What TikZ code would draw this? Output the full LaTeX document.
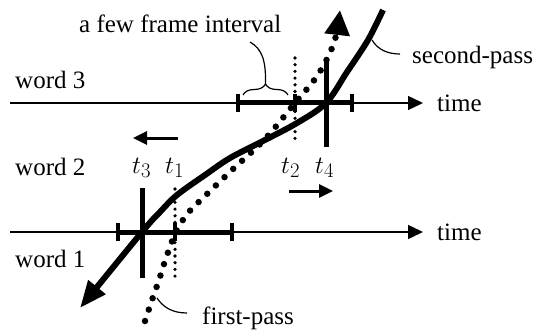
\documentclass[tikz,border=0pt]{standalone}
\usepackage{fontspec}
\setmainfont{Liberation Serif}
\usetikzlibrary{arrows.meta,decorations.pathreplacing,positioning}

\begin{document}
\begin{tikzpicture}[
    x=1pt, y=-1pt,
    timeaxis/.style={line width=1.4pt, -{Triangle[length=15pt,width=14pt]}},
    window/.style={line width=5pt},
    endbar/.style={line width=4pt},
    cutline/.style={line width=5pt},
    framedots/.style={line width=3.6pt, line cap=round,
                      dash pattern=on 0pt off 6.7pt},
    secondpass/.style={line width=6pt, -{Triangle[length=27pt,width=21pt]}},
    firstpass/.style={line width=6.5pt, line cap=round,
                      dash pattern=on 0pt off 12pt,
                      -{Triangle[length=25pt,width=24pt]}},
    shiftarrow/.style={line width=3pt, -{Triangle[length=14pt,width=13pt]}},
    leader/.style={line width=1.2pt},
    lbl/.style={font=\fontsize{25}{30}\selectfont, inner sep=0pt,
                anchor=base west},
    tlbl/.style={font=\fontsize{29}{34}\selectfont, inner sep=0pt,
                 anchor=base west}
]
\useasboundingbox (0,0) rectangle (534,331);

% One unit is one pixel of the 534 x 331 picture, y grows downwards.
\coordinate (ax3s) at (10,103);
\coordinate (ax3e) at (423,103);
\coordinate (ax1s) at (10,232);
\coordinate (ax1e) at (423,232);

\coordinate (t1) at (175,232);
\coordinate (t2) at (295,103);
\coordinate (t3) at (142,232);
\coordinate (t4) at (326,103);

% ---------- time axes ----------
\draw[timeaxis] (ax3s) -- (ax3e);
\draw[timeaxis] (ax1s) -- (ax1e);

\node[lbl] (time3) at (437,112) {time};
\node[lbl] (time1) at (437,240) {time};

\node[lbl] (word3) at (15,89)  {word 3};
\node[lbl] (word2) at (15,175) {word 2};
\node[lbl] (word1) at (15,267) {word 1};

% ---------- search windows round t1 and t2 ----------
\draw[window] ([xshift=-57pt]t1) -- ([xshift=57pt]t1);
\draw[window] ([xshift=-57pt]t2) -- ([xshift=57pt]t2);
\foreach \c in {t1,t2}
  \foreach \dx in {-57,0,57}
    \draw[endbar] ([xshift=\dx pt, yshift=9pt]\c) -- ([xshift=\dx pt, yshift=-9pt]\c);

% ---------- boundaries ----------
\draw[framedots] ([yshift=43pt]t1) -- ([yshift=-45pt]t1);
\draw[framedots] ([yshift=45pt]t2) -- ([yshift=-40pt]t2);
\draw[cutline] ([yshift=44pt]t3) -- ([yshift=-46pt]t3);
\draw[cutline] ([yshift=43pt]t4) -- ([yshift=-44pt]t4);

\node[tlbl] (lt3) at (132,173) {$t_3$};
\node[tlbl] (lt1) at (165,173) {$t_1$};
\node[tlbl] (lt2) at (281,173) {$t_2$};
\node[tlbl] (lt4) at (315,173) {$t_4$};

\coordinate (lefttail) at (178,138);
\coordinate (lefthead) at (133,138);
\coordinate (righttail) at (289,191);
\coordinate (righthead) at (333,191);
\draw[shiftarrow] (lefttail) -- (lefthead);
\draw[shiftarrow] (righttail) -- (righthead);

% ---------- passes ----------
\draw[firstpass] plot[smooth, tension=0.55] coordinates {
  (145,321) (152,300) (159,280) (166,258) (176,232) (188,213) (205,196)
  (232,170) (265,139) (295,103) (315,79) (328,57) (336,36) (340,10)};
\draw[secondpass] plot[smooth, tension=0.55] coordinates {
  (383,10) (368,40) (347,72) (326,103) (297,123) (263,141) (230,158)
  (205,175) (177,195) (160,212) (142,232) (80,308)};

% ---------- brace and leaders ----------
\draw[leader, decorate, decoration={brace, amplitude=11pt}]
      (243,95) -- (288,95);
\coordinate (bracetip) at (265.5,84);
\node[lbl] (interval) at (79,33) {a few frame interval};
\coordinate (intervalfoot) at (250,42);
\draw[leader] (bracetip) .. controls (266,60) and (262,49) .. (intervalfoot);

\node[lbl] (second) at (412,64) {second-pass};
\coordinate (secondpt) at (372,40);
\coordinate (secondfoot) at (400,54);
\draw[leader] (secondpt) .. controls (378,50) and (388,54) .. (secondfoot);

\node[lbl] (first) at (202,324) {first-pass};
\coordinate (firstpt) at (157,298);
\coordinate (firstfoot) at (187,313);
\draw[leader] (firstpt) .. controls (163,307) and (172,313) .. (firstfoot);

\end{tikzpicture}
\end{document}
